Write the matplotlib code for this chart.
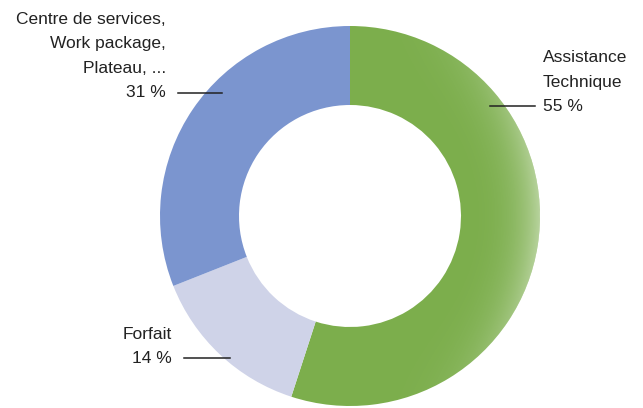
import matplotlib.pyplot as plt
import numpy as np
from matplotlib.patches import Wedge

# share of activity by engagement type
labels = ["Assistance\nTechnique", "Forfait", "Centre de services,\nWork package,\nPlateau, ..."]
values = [55, 14, 31]
colors = ["#7cae4c", "#cfd3e8", "#7b95cf"]

W, H = 643, 408
fig = plt.figure(figsize=(W / 100, H / 100), dpi=100)
ax = fig.add_axes([0, 0, 1, 1])

cx, cy, r, ring = 350, H - 216, 190, 79
ax.pie(values, colors=colors, startangle=90, counterclock=False,
       center=(cx, cy), radius=r, frame=True,
       wedgeprops=dict(width=ring, linewidth=0))

# soft highlight toward the outer right rim
xx, yy = np.meshgrid(np.linspace(cx - r, cx + r, 400), np.linspace(cy - r, cy + r, 400))
d = np.hypot(xx - cx, yy - cy)
side = np.clip((xx - cx) / r, 0, 1) ** 3
rim = np.clip((d - (r - ring)) / ring, 0, 1) ** 2
shade = np.ones((400, 400, 4))
shade[..., 3] = 0.45 * side * rim
img = ax.imshow(shade, extent=(cx - r, cx + r, cy - r, cy + r), origin="lower",
                interpolation="bilinear", zorder=3)
img.set_clip_path(Wedge((cx, cy), r, 0, 360, width=ring, transform=ax.transData))

ax.set_xlim(0, W)
ax.set_ylim(0, H)
ax.set_aspect("equal")
ax.axis("off")

font = dict(family="Liberation Sans", fontsize=12.5, color="#222222", linespacing=1.78)

# Assistance Technique
ax.text(543, H - 111, f"{labels[0]}\n{values[0]} %", ha="left", va="baseline", **font)
ax.plot([490, 535], [H - 106, H - 106], color="#222222", lw=1.1, zorder=4)

# Forfait
ax.text(172, H - 363, f"{labels[1]}\n{values[1]} %", ha="right", va="baseline",
        multialignment="right", **font)
ax.plot([184, 230], [H - 358, H - 358], color="#222222", lw=1.1, zorder=4)

# Centre de services
ax.text(166, H - 97, f"{labels[2]}\n{values[2]} %", ha="right", va="baseline",
        multialignment="right", **font)
ax.plot([178, 222], [H - 93, H - 93], color="#222222", lw=1.1, zorder=4)

fig.savefig("out.png", dpi=100)
